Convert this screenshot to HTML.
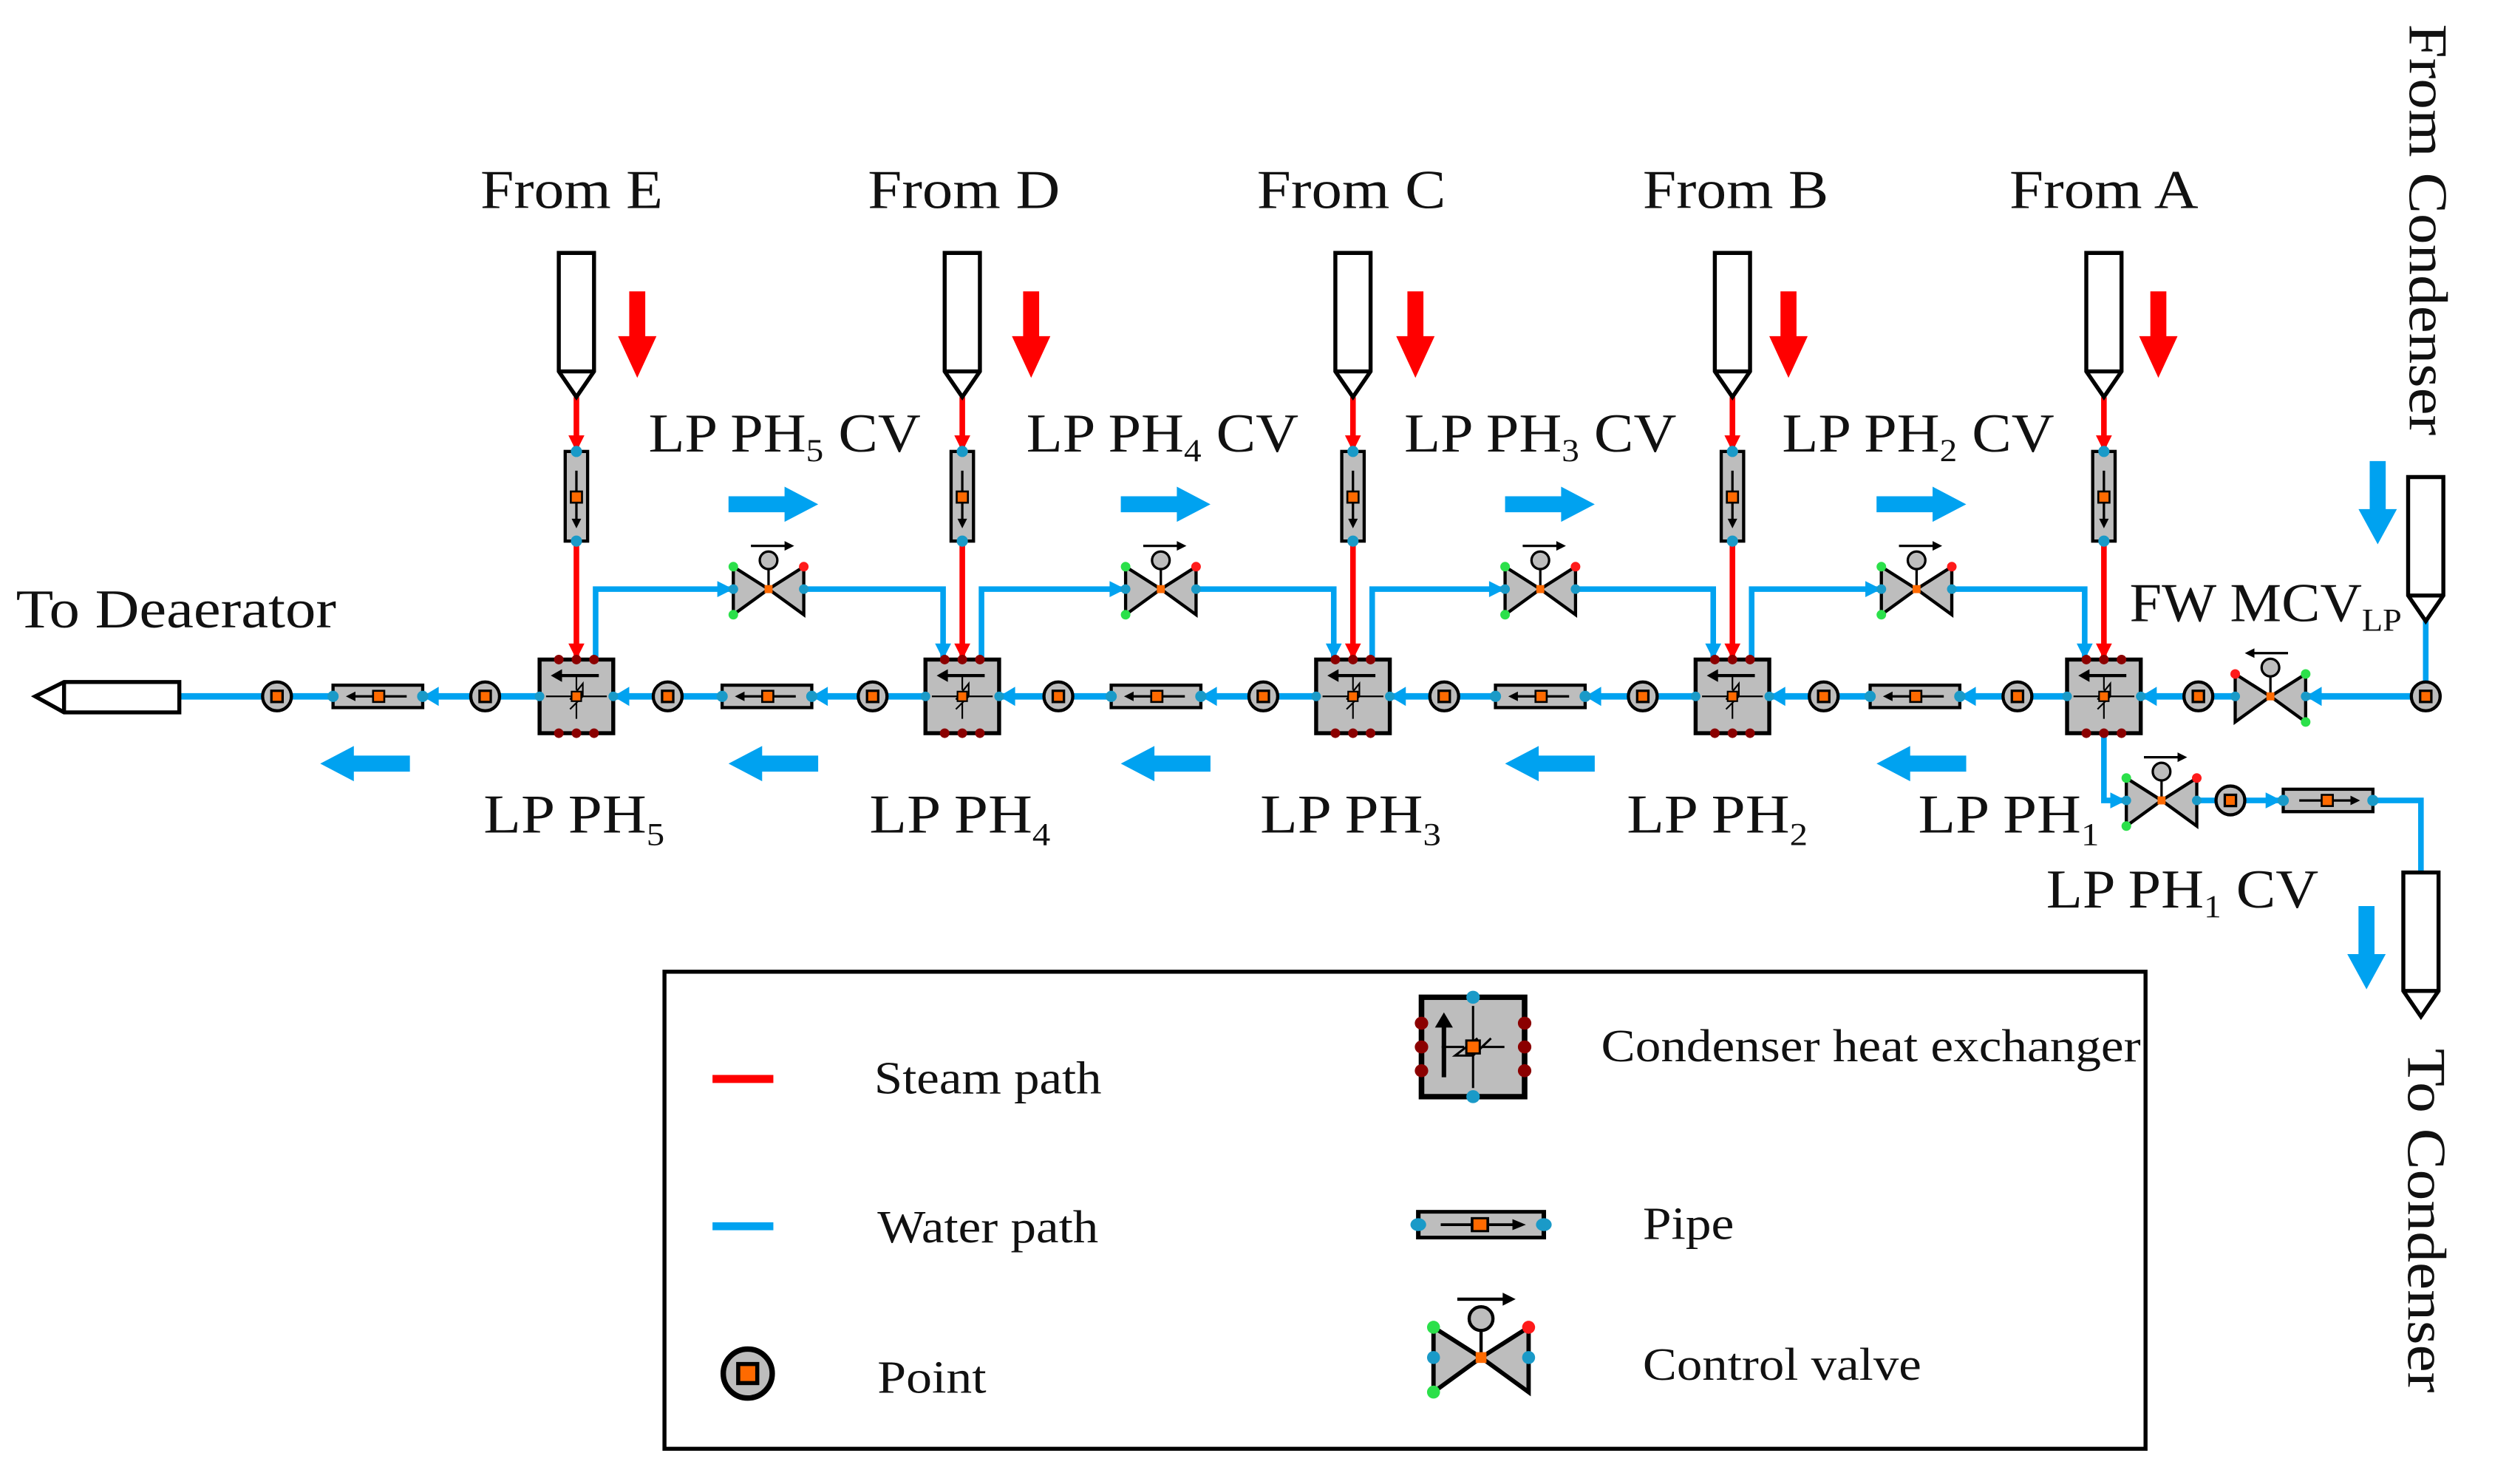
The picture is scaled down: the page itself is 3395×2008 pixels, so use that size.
<!DOCTYPE html>
<html><head><meta charset="utf-8"><style>
html,body{margin:0;padding:0;background:#fff;}
svg{display:block;}
text{font-family:"Liberation Serif",serif;fill:#111;}
</style></head><body>
<svg width="3395" height="2008" viewBox="0 0 1567 927" preserveAspectRatio="none" xmlns="http://www.w3.org/2000/svg">
<defs>
<g id="hx">
<rect x="-23" y="-23" width="46" height="46" fill="#bdbdbd" stroke="#000" stroke-width="2.5"/>
<line x1="14" y1="-13" x2="-12" y2="-13" stroke="#000" stroke-width="2"/>
<path d="M-16,-13 L-9,-17 L-9,-9 Z" fill="#000"/>
<line x1="-19" y1="0" x2="19" y2="0" stroke="#000" stroke-width="1"/>
<path d="M0,-14 L0,-4 M0,4 L0,14 M-4,2 L4,-8 L4,0 L-4,8" stroke="#000" stroke-width="1" fill="none"/>
<rect x="-3" y="-3" width="6" height="6" fill="#ff6a00" stroke="#000" stroke-width="1"/>
<circle cx="-11" cy="-23" r="3" fill="#8b0000"/><circle cx="0" cy="-23" r="3" fill="#8b0000"/><circle cx="11" cy="-23" r="3" fill="#8b0000"/>
<circle cx="-11" cy="23" r="3" fill="#8b0000"/><circle cx="0" cy="23" r="3" fill="#8b0000"/><circle cx="11" cy="23" r="3" fill="#8b0000"/>
<circle cx="-23" cy="0" r="3" fill="#1a9ac8"/><circle cx="23" cy="0" r="3" fill="#1a9ac8"/>
</g>
<g id="pipeL">
<rect x="-28" y="-7" width="56" height="14" fill="#bdbdbd" stroke="#000" stroke-width="2"/>
<line x1="-16" y1="0" x2="18" y2="0" stroke="#000" stroke-width="1.5"/>
<path d="M-20,0 L-14,-3 L-14,3 Z" fill="#000"/>
<rect x="-3" y="-3.5" width="7" height="7" fill="#ff6a00" stroke="#000" stroke-width="1.2"/>
<circle cx="-28" cy="0" r="3.5" fill="#1a9ac8"/><circle cx="28" cy="0" r="3.5" fill="#1a9ac8"/>
</g>
<g id="pipeV">
<rect x="-7" y="-28" width="14" height="56" fill="#bdbdbd" stroke="#000" stroke-width="2"/>
<line x1="0" y1="-16" x2="0" y2="16" stroke="#000" stroke-width="1.5"/>
<path d="M0,20 L-3,14 L3,14 Z" fill="#000"/>
<rect x="-3.5" y="-3" width="7" height="7" fill="#ff6a00" stroke="#000" stroke-width="1.2"/>
<circle cx="0" cy="-28" r="3.5" fill="#1a9ac8"/><circle cx="0" cy="28" r="3.5" fill="#1a9ac8"/>
</g>
<g id="pt">
<ellipse cx="0" cy="0" rx="9" ry="9" fill="#bdbdbd" stroke="#000" stroke-width="2"/>
<rect x="-3.5" y="-3.5" width="7" height="7" fill="#ff6a00" stroke="#000" stroke-width="1.5"/>
</g>
<g id="valve">
<path d="M-22,-14 L0,0 L-22,16 Z" fill="#bdbdbd" stroke="#000" stroke-width="2"/>
<path d="M22,-14 L0,0 L22,16 Z" fill="#bdbdbd" stroke="#000" stroke-width="2"/>
<line x1="0" y1="0" x2="0" y2="-13" stroke="#000" stroke-width="1.5"/>
<circle cx="0" cy="-18" r="5.5" fill="#bdbdbd" stroke="#000" stroke-width="1.5"/>
<line x1="-11" y1="-27" x2="12" y2="-27" stroke="#000" stroke-width="1.5"/>
<path d="M16,-27 L10,-30 L10,-24 Z" fill="#000"/>
<rect x="-2.5" y="-2.5" width="5" height="5" fill="#ff6a00"/>
<circle cx="-22" cy="-14" r="3" fill="#2be04a"/><circle cx="-22" cy="16" r="3" fill="#2be04a"/>
<circle cx="22" cy="-14" r="3" fill="#ff1a1a"/>
<circle cx="-22" cy="0" r="3" fill="#1a9ac8"/><circle cx="22" cy="0" r="3" fill="#1a9ac8"/>
</g>
<g id="srcDown">
<path d="M-11,0 L11,0 L11,74 L0,90 L-11,74 Z" fill="#fff" stroke="#000" stroke-width="2.5"/>
<line x1="-11" y1="74" x2="11" y2="74" stroke="#000" stroke-width="2.5"/>
</g>
<g id="redArrow"><path d="M-5,0 L5,0 L5,28 L12,28 L0,54 L-12,28 L-5,28 Z" fill="#ff0000"/></g>
<g id="blueR"><path d="M0,-5 L35,-5 L35,-11 L56,0 L35,11 L35,5 L0,5 Z" fill="#00a2f0"/></g>
<g id="blueD"><path d="M-5,0 L5,0 L5,30 L12,30 L0,52 L-12,30 L-5,30 Z" fill="#00a2f0"/></g>
</defs>

<line x1="112" y1="435" x2="1515" y2="435" stroke="#00a2f0" stroke-width="4"/>
<path d="M112,426 L40,426 L22,435 L40,445 L112,445 Z" fill="#fff" stroke="#000" stroke-width="2.5"/>
<line x1="40" y1="426" x2="40" y2="445" stroke="#000" stroke-width="2.5"/>

<g stroke-width="3.5" fill="none">
<path d="M360,248 V412 M601,248 V412 M845,248 V412 M1082,248 V412 M1314,248 V412" stroke="#ff0000"/>
<path d="M372,412 V368 H458 M502,368 H589 V412" stroke="#00a2f0"/>
<path d="M613,412 V368 H703 M747,368 H833 V412" stroke="#00a2f0"/>
<path d="M857,412 V368 H940 M984,368 H1070 V412" stroke="#00a2f0"/>
<path d="M1094,412 V368 H1175 M1219,368 H1302 V412" stroke="#00a2f0"/>
<path d="M1314,459 V500 H1328 M1372,500 H1512 V545" stroke="#00a2f0"/>
<path d="M1515,385 V435" stroke="#00a2f0"/>
</g>
<g fill="#00a2f0">
<path d="M589,412 l-5,-10 l10,0Z M833,412 l-5,-10 l10,0Z M1070,412 l-5,-10 l10,0Z M1302,412 l-5,-10 l10,0Z"/>
<path d="M458,368 l-10,-5 l0,10Z M703,368 l-10,-5 l0,10Z M940,368 l-10,-5 l0,10Z M1175,368 l-10,-5 l0,10Z M1328,500 l-10,-5 l0,10Z M1425,500 l-10,-5 l0,10Z"/>
<path d="M383,435 l10,-6 l0,12Z M624,435 l10,-6 l0,12Z M868,435 l10,-6 l0,12Z M1105,435 l10,-6 l0,12Z M1337,435 l10,-6 l0,12Z M1440,435 l10,-6 l0,12Z"/>
<path d="M264,435 l10,-6 l0,12Z M507,435 l10,-6 l0,12Z M750,435 l10,-6 l0,12Z M990,435 l10,-6 l0,12Z M1224,435 l10,-6 l0,12Z"/>
</g>
<g fill="#ff0000">
<path d="M360,282 l-5,-10 l10,0Z M601,282 l-5,-10 l10,0Z M845,282 l-5,-10 l10,0Z M1082,282 l-5,-10 l10,0Z M1314,282 l-5,-10 l10,0Z"/>
<path d="M360,412 l-5,-10 l10,0Z M601,412 l-5,-10 l10,0Z M845,412 l-5,-10 l10,0Z M1082,412 l-5,-10 l10,0Z M1314,412 l-5,-10 l10,0Z"/>
</g>

<use href="#srcDown" x="360" y="158"/><use href="#srcDown" x="601" y="158"/><use href="#srcDown" x="845" y="158"/><use href="#srcDown" x="1082" y="158"/><use href="#srcDown" x="1314" y="158"/>
<use href="#srcDown" x="1515" y="298"/>
<use href="#srcDown" x="1512" y="545"/>
<use href="#pipeV" x="360" y="310"/><use href="#pipeV" x="601" y="310"/><use href="#pipeV" x="845" y="310"/><use href="#pipeV" x="1082" y="310"/><use href="#pipeV" x="1314" y="310"/>
<use href="#hx" x="360" y="435"/><use href="#hx" x="601" y="435"/><use href="#hx" x="845" y="435"/><use href="#hx" x="1082" y="435"/><use href="#hx" x="1314" y="435"/>
<use href="#pipeL" x="236" y="435"/><use href="#pipeL" x="479" y="435"/><use href="#pipeL" x="722" y="435"/><use href="#pipeL" x="962" y="435"/><use href="#pipeL" x="1196" y="435"/>
<g transform="translate(1454,500) scale(-1,1)"><use href="#pipeL"/></g>
<use href="#pt" x="173" y="435"/><use href="#pt" x="303" y="435"/><use href="#pt" x="417" y="435"/><use href="#pt" x="545" y="435"/><use href="#pt" x="661" y="435"/><use href="#pt" x="789" y="435"/><use href="#pt" x="902" y="435"/><use href="#pt" x="1026" y="435"/><use href="#pt" x="1139" y="435"/><use href="#pt" x="1260" y="435"/><use href="#pt" x="1373" y="435"/><use href="#pt" x="1515" y="435"/><use href="#pt" x="1393" y="500"/>
<use href="#valve" x="480" y="368"/><use href="#valve" x="725" y="368"/><use href="#valve" x="962" y="368"/><use href="#valve" x="1197" y="368"/><use href="#valve" x="1350" y="500"/>
<g transform="translate(1418,435) scale(-1,1)"><use href="#valve"/></g>

<use href="#redArrow" x="398" y="182"/><use href="#redArrow" x="644" y="182"/><use href="#redArrow" x="884" y="182"/><use href="#redArrow" x="1117" y="182"/><use href="#redArrow" x="1348" y="182"/>
<use href="#blueR" x="455" y="315"/><use href="#blueR" x="700" y="315"/><use href="#blueR" x="940" y="315"/><use href="#blueR" x="1172" y="315"/>
<g transform="translate(256,477) scale(-1,1)"><use href="#blueR"/></g>
<g transform="translate(511,477) scale(-1,1)"><use href="#blueR"/></g>
<g transform="translate(756,477) scale(-1,1)"><use href="#blueR"/></g>
<g transform="translate(996,477) scale(-1,1)"><use href="#blueR"/></g>
<g transform="translate(1228,477) scale(-1,1)"><use href="#blueR"/></g>
<use href="#blueD" x="1485" y="288"/>
<use href="#blueD" x="1478" y="566"/>

<g font-size="34">
<text x="300" y="130" textLength="114" lengthAdjust="spacingAndGlyphs">From E</text>
<text x="542" y="130" textLength="120" lengthAdjust="spacingAndGlyphs">From D</text>
<text x="785" y="130" textLength="118" lengthAdjust="spacingAndGlyphs">From C</text>
<text x="1026" y="130" textLength="116" lengthAdjust="spacingAndGlyphs">From B</text>
<text x="1255" y="130" textLength="118" lengthAdjust="spacingAndGlyphs">From A</text>
<text x="405" y="282" textLength="170" lengthAdjust="spacingAndGlyphs">LP PH<tspan font-size="20" dy="6">5</tspan><tspan dy="-6"> CV</tspan></text>
<text x="641" y="282" textLength="170" lengthAdjust="spacingAndGlyphs">LP PH<tspan font-size="20" dy="6">4</tspan><tspan dy="-6"> CV</tspan></text>
<text x="877" y="282" textLength="170" lengthAdjust="spacingAndGlyphs">LP PH<tspan font-size="20" dy="6">3</tspan><tspan dy="-6"> CV</tspan></text>
<text x="1113" y="282" textLength="170" lengthAdjust="spacingAndGlyphs">LP PH<tspan font-size="20" dy="6">2</tspan><tspan dy="-6"> CV</tspan></text>
<text x="302" y="520" textLength="113" lengthAdjust="spacingAndGlyphs">LP PH<tspan font-size="20" dy="8">5</tspan></text>
<text x="543" y="520" textLength="113" lengthAdjust="spacingAndGlyphs">LP PH<tspan font-size="20" dy="8">4</tspan></text>
<text x="787" y="520" textLength="113" lengthAdjust="spacingAndGlyphs">LP PH<tspan font-size="20" dy="8">3</tspan></text>
<text x="1016" y="520" textLength="113" lengthAdjust="spacingAndGlyphs">LP PH<tspan font-size="20" dy="8">2</tspan></text>
<text x="1198" y="520" textLength="113" lengthAdjust="spacingAndGlyphs">LP PH<tspan font-size="20" dy="8">1</tspan></text>
<text x="1278" y="567" textLength="170" lengthAdjust="spacingAndGlyphs">LP PH<tspan font-size="20" dy="6">1</tspan><tspan dy="-6"> CV</tspan></text>
<text x="1330" y="388" textLength="170" lengthAdjust="spacingAndGlyphs">FW MCV<tspan font-size="20" dy="6">LP</tspan></text>
<text x="10" y="392" textLength="200" lengthAdjust="spacingAndGlyphs">To Deaerator</text>
<text transform="translate(1505,15) rotate(90)" textLength="257" lengthAdjust="spacingAndGlyphs">From Condenser</text>
<text transform="translate(1504,655) rotate(90)" textLength="215" lengthAdjust="spacingAndGlyphs">To Condenser</text>
</g>

<rect x="415" y="607" width="925" height="298" fill="none" stroke="#000" stroke-width="2.5"/>
<line x1="445" y1="674" x2="483" y2="674" stroke="#ff0000" stroke-width="5"/>
<line x1="445" y1="766" x2="483" y2="766" stroke="#00a2f0" stroke-width="5"/>
<g transform="translate(467,858) scale(1.7)"><use href="#pt"/></g>
<g transform="translate(920,654) scale(1.4,1.35) scale(1,-1) rotate(-90)"><use href="#hx"/></g>
<g transform="translate(925,765) scale(1.4,1.15) scale(-1,1)"><use href="#pipeL"/></g>
<g transform="translate(925,848) scale(1.35)"><use href="#valve"/></g>
<g font-size="29">
<text x="546" y="683" textLength="142" lengthAdjust="spacingAndGlyphs">Steam path</text>
<text x="548" y="776" textLength="138" lengthAdjust="spacingAndGlyphs">Water path</text>
<text x="548" y="870" textLength="68" lengthAdjust="spacingAndGlyphs">Point</text>
<text x="1000" y="663" textLength="337" lengthAdjust="spacingAndGlyphs">Condenser heat exchanger</text>
<text x="1026" y="774" textLength="57" lengthAdjust="spacingAndGlyphs">Pipe</text>
<text x="1026" y="862" textLength="174" lengthAdjust="spacingAndGlyphs">Control valve</text>
</g>
</svg>
</body></html>
